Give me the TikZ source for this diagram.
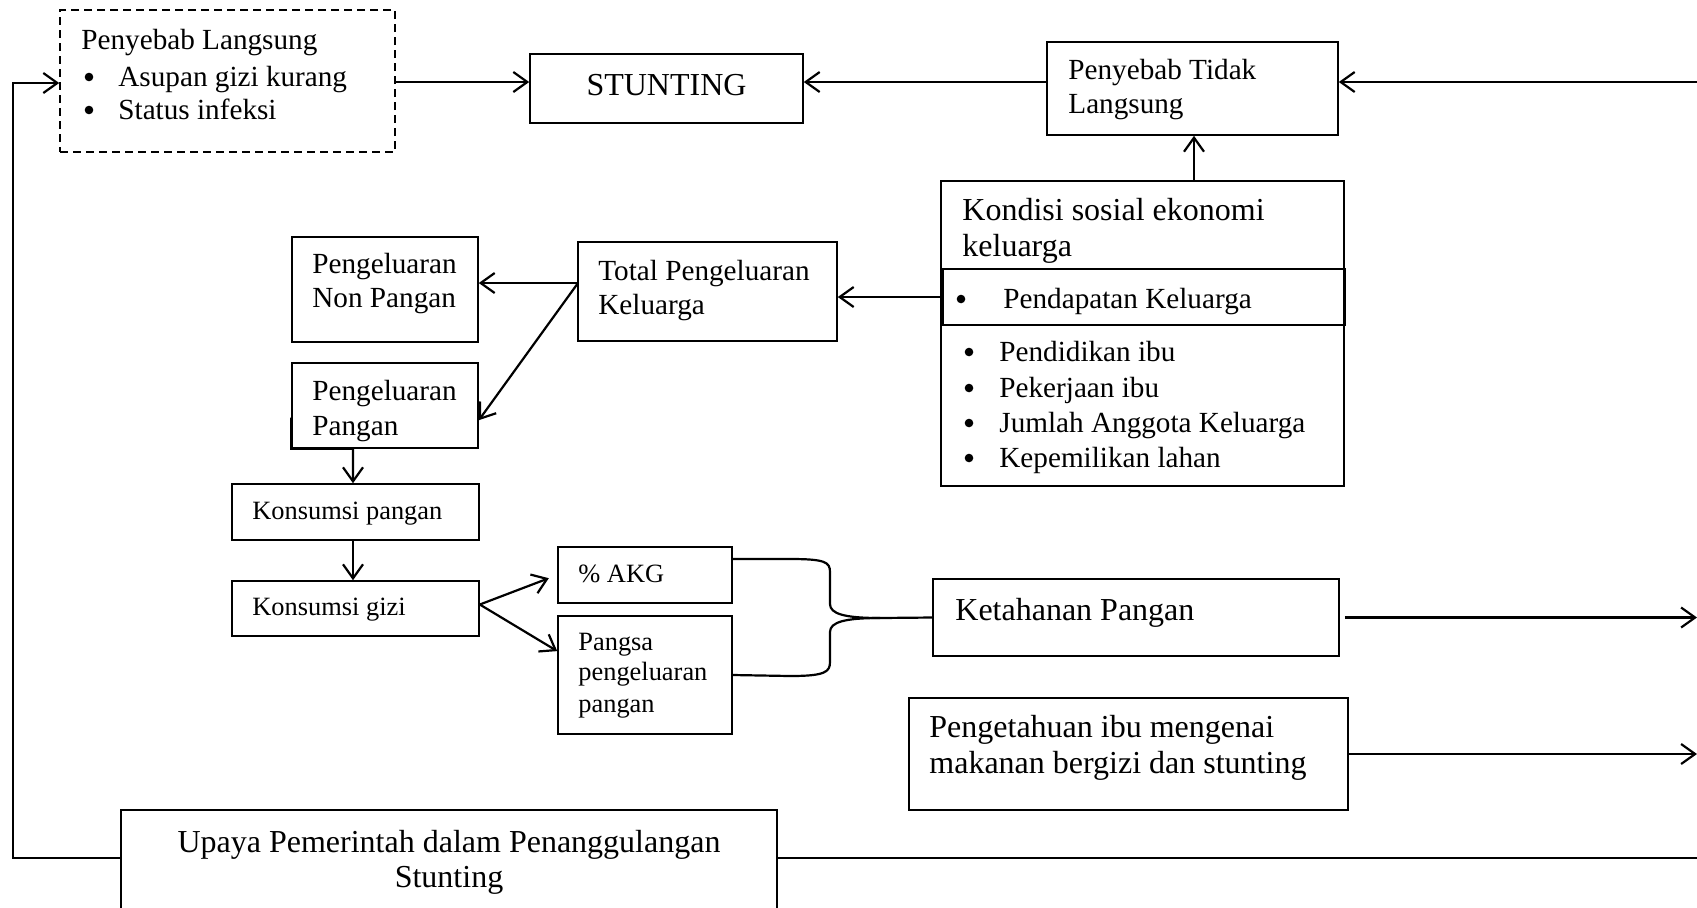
\documentclass[tikz,border=0pt]{standalone}
\usepackage{fontspec}
\setmainfont{Liberation Serif}
\usetikzlibrary{arrows.meta,calc}
\newcommand\fA{\fontsize{14.6}{17.5}\selectfont}
\newcommand\fB{\fontsize{16}{19}\selectfont}
\newcommand\fC{\fontsize{13.2}{15.8}\selectfont}
\begin{document}
\begin{tikzpicture}[x=0.5pt,y=-0.5pt,
  box/.style={draw, line width=0.8pt, inner sep=0pt, anchor=center},
  conn/.style={line width=1.1pt},
  arr/.style={conn, -{Straight Barb[length=7pt,width=10pt]}},
  txt/.style={inner sep=0pt, anchor=base west},
  ctxt/.style={inner sep=0pt, anchor=base},
  dot/.style={circle, fill=black, inner sep=0pt, minimum size=4.3pt}]
\path[use as bounding box] (0,0) rectangle (1697,907);
\clip (0,0) rectangle (1697,907);

% boxes
\node[box, dash pattern=on 4pt off 2.5pt, minimum width=167.5pt, minimum height=71pt] (langsung) at (227.5,81) {};
\node[box, minimum width=136.5pt, minimum height=34.5pt] (stunting) at (666.5,88.5) {};
\node[box, minimum width=145.5pt, minimum height=46.5pt] (tidak) at (1192.5,88.5) {};
\node[box, minimum width=201.5pt, minimum height=152.5pt] (kondisi) at (1142.5,333.5) {};
\node[box, minimum width=201pt, minimum height=28pt] (pendapatan) at (1144,297) {};
\node[box, minimum width=129.5pt, minimum height=49.5pt] (total) at (707.5,291.5) {};
\node[box, minimum width=93pt, minimum height=52.5pt] (nonpangan) at (385,289.5) {};
\node[box, minimum width=93pt, minimum height=42.5pt] (pangan) at (385,405.5) {};
\node[box, minimum width=123.5pt, minimum height=28pt] (kpangan) at (355.5,512) {};
\node[box, minimum width=123.5pt, minimum height=27.5pt] (kgizi) at (355.5,608.5) {};
\node[box, minimum width=87pt, minimum height=28pt] (akg) at (645,575) {};
\node[box, minimum width=87pt, minimum height=59pt] (pangsa) at (645,675) {};
\node[box, minimum width=203pt, minimum height=38.5pt] (ketahanan) at (1136,617.5) {};
\node[box, minimum width=219.5pt, minimum height=56pt] (pengetahuan) at (1128.5,754) {};
\node[box, minimum width=328pt, minimum height=55pt] (upaya) at (449,865) {};

% texts
\node[txt, font=\fA] (tl1) at (81,49) {Penyebab Langsung};
\node[dot] (tl2b) at (89,77) {};
\node[txt, font=\fA] (tl2) at (118,86) {Asupan gizi kurang};
\node[dot] (tl3b) at (89,110) {};
\node[txt, font=\fA] (tl3) at (118,119) {Status infeksi};

\node[ctxt, font=\fB] (tst) at (666.5,95) {STUNTING};

\node[txt, font=\fA] (tt1) at (1068,79) {Penyebab Tidak};
\node[txt, font=\fA] (tt2) at (1068,113) {Langsung};

\node[txt, font=\fB] (tk1) at (962,220) {Kondisi sosial ekonomi};
\node[txt, font=\fB] (tk2) at (962,256) {keluarga};
\node[dot] (tpb) at (961,299) {};
\node[txt, font=\fA] (tp) at (1003,308) {Pendapatan Keluarga};
\node[dot] (tk3b) at (969,352) {};
\node[txt, font=\fA] (tk3) at (999,361) {Pendidikan ibu};
\node[dot] (tk4b) at (969,388) {};
\node[txt, font=\fA] (tk4) at (999,397) {Pekerjaan ibu};
\node[dot] (tk5b) at (969,423) {};
\node[txt, font=\fA] (tk5) at (999,432) {Jumlah Anggota Keluarga};
\node[dot] (tk6b) at (969,458) {};
\node[txt, font=\fA] (tk6) at (999,467) {Kepemilikan lahan};

\node[txt, font=\fA] (ttot1) at (598,280) {Total Pengeluaran};
\node[txt, font=\fA] (ttot2) at (598,314) {Keluarga};

\node[txt, font=\fA] (tnp1) at (312,273) {Pengeluaran};
\node[txt, font=\fA] (tnp2) at (312,307) {Non Pangan};
\node[txt, font=\fA] (tpg1) at (312,400) {Pengeluaran};
\node[txt, font=\fA] (tpg2) at (312,435) {Pangan};

\node[txt, font=\fC] (tkp) at (252,519) {Konsumsi pangan};
\node[txt, font=\fC] (tkg) at (252,615) {Konsumsi gizi};
\node[txt, font=\fC] (takg) at (578,582) {\% AKG};
\node[txt, font=\fC] (tps1) at (578,650) {Pangsa};
\node[txt, font=\fC] (tps2) at (578,680) {pengeluaran};
\node[txt, font=\fC] (tps3) at (578,712) {pangan};

\node[txt, font=\fB] (tkt) at (955,620) {Ketahanan Pangan};
\node[txt, font=\fB] (tpe1) at (929,737) {Pengetahuan ibu mengenai};
\node[txt, font=\fB] (tpe2) at (929,773) {makanan bergizi dan stunting};

\node[ctxt, font=\fB] (tup1) at (449,852) {Upaya Pemerintah dalam Penanggulangan};
\node[ctxt, font=\fB] (tup2) at (449,887) {Stunting};

% coordinates
\coordinate (L1) at (13,858);
\coordinate (L2) at (13,83);
\coordinate (R1) at (1697,82);
\coordinate (R3) at (1697,858);
\coordinate (VX) at (1194,0);
\coordinate (PX) at (353,0);
\coordinate (tsplit) at (578,283);
\coordinate (bj) at (880,618);

% connectors
\draw[arr] (upaya.west |- L1) -- (L1) -- (L2) -- (langsung.west |- L2);
\draw[conn] (upaya.east |- L1) -- (R3);
\draw[arr] (R1) -- (tidak.east |- R1);
\draw[arr] (langsung.east |- R1) -- (stunting.west |- R1);
\draw[arr] (tidak.west |- R1) -- (stunting.east |- R1);
\draw[arr] (kondisi.north -| VX) -- (tidak.south -| VX);
\draw[arr] (pendapatan.west) -- (total.east |- pendapatan.west);
\draw[arr] (tsplit) -- (nonpangan.east |- tsplit);
\draw[arr] (tsplit) -- ($(pangan.north east)!0.67!(pangan.south east)$);
\draw[arr] ($(pangan.north west)!0.64!(pangan.south west)$) -- (pangan.south west) -- (pangan.south -| PX) -- (kpangan.north -| PX);
\draw[arr] (kpangan.south -| PX) -- (kgizi.north -| PX);
\draw[arr, shorten >=4.5pt] ([yshift=2pt]kgizi.east) -- (akg.west);
\draw[arr] ([yshift=2pt]kgizi.east) -- ($(pangsa.north west)!0.3!(pangsa.south west)$);
\draw[conn] ([yshift=8pt]akg.east) -- (790,559) .. controls (825,559) and (830,562) .. (830,572) -- (830,604) .. controls (830,614) and (845,618) .. (bj) -- (ketahanan.west);
\draw[conn] (pangsa.east) -- (790,676) .. controls (825,676) and (830,672) .. (830,662) -- (830,632) .. controls (830,622) and (845,618) .. (bj);
\draw[arr, shorten <=2.5pt] (ketahanan.east) -- (ketahanan.east -| R1);
\draw[arr] (pengetahuan.east) -- (pengetahuan.east -| R1);
\end{tikzpicture}
\end{document}
